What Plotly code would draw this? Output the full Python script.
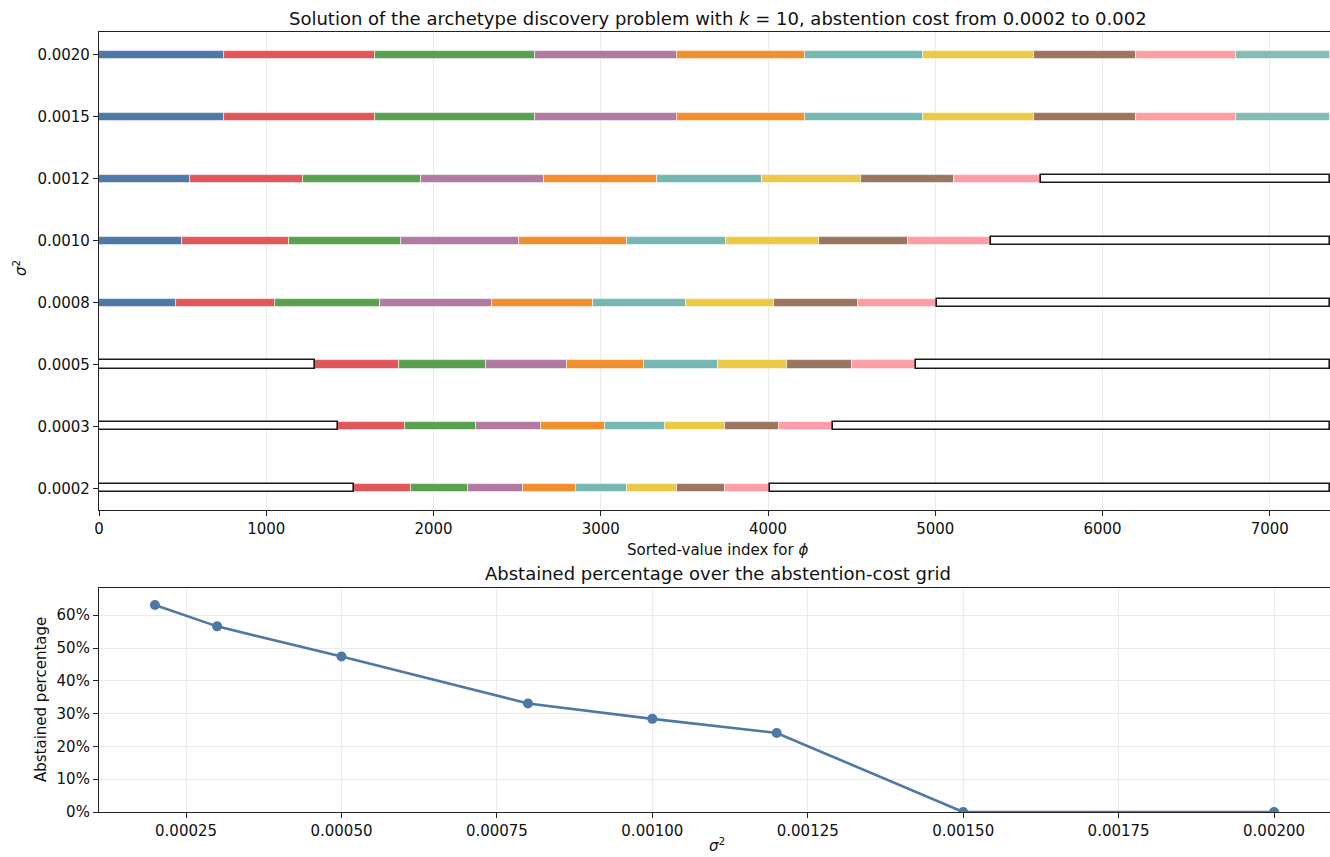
import plotly.graph_objects as go

# ---------------- data ----------------
sigma2_labels = ["0.0002", "0.0003", "0.0005", "0.0008", "0.0010", "0.0012", "0.0015", "0.0020"]
sigma2_values = [0.0002, 0.0003, 0.0005, 0.0008, 0.0010, 0.0012, 0.0015, 0.0020]
n_points = 7360

# segment end indices per row (sorted-value index), and archetype id per segment (-1 = abstained)
ends_0002 = [1527, 1866, 2209, 2538, 2851, 3158, 3457, 3742, 4013, 7360]
ends_0003 = [1431, 1832, 2255, 2645, 3026, 3385, 3740, 4065, 4386, 7360]
ends_0005 = [1292, 1794, 2315, 2799, 3256, 3698, 4111, 4505, 4884, 7360]
ends_0008 = [460, 1053, 1682, 2348, 2951, 3509, 4033, 4535, 5010, 7360]
ends_0010 = [498, 1136, 1804, 2512, 3154, 3750, 4304, 4835, 5335, 7360]
ends_0012 = [542, 1220, 1928, 2661, 3337, 3961, 4553, 5110, 5632, 7360]
ends_0015 = [747, 1651, 2608, 3457, 4222, 4928, 5590, 6202, 6798, 7360]
ends_0020 = [747, 1651, 2608, 3457, 4222, 4928, 5590, 6202, 6798, 7360]

ids_both_abst = [-1, 1, 2, 3, 4, 5, 6, 7, 8, -1]
ids_right_abst = [0, 1, 2, 3, 4, 5, 6, 7, 8, -1]
ids_full = [0, 1, 2, 3, 4, 5, 6, 7, 8, 9]

row_ends = [ends_0002, ends_0003, ends_0005, ends_0008, ends_0010, ends_0012, ends_0015, ends_0020]
row_ids = [ids_both_abst, ids_both_abst, ids_both_abst, ids_right_abst,
           ids_right_abst, ids_right_abst, ids_full, ids_full]

abstained_pct = [0.631, 0.566, 0.474, 0.331, 0.284, 0.241, 0.0, 0.0]

archetype_colors = ["#4E79A7", "#E15759", "#59A14F", "#B07AA1", "#F28E2B",
                    "#76B7B2", "#EDC948", "#9C755F", "#FF9DA7", "#86BCB6"]

# ---------------- figure ----------------
W, H = 1330, 857
FONT = "DejaVu Sans"
fig = go.Figure()

seg_by_id = {}
for lab, ends, ids in zip(sigma2_labels, row_ends, row_ids):
    start = 0
    for e, a in zip(ends, ids):
        seg_by_id.setdefault(a, {"y": [], "base": [], "x": []})
        seg_by_id[a]["y"].append(lab)
        seg_by_id[a]["base"].append(start)
        seg_by_id[a]["x"].append(e - start)
        start = e

for a in range(10):
    if a not in seg_by_id:
        continue
    d = seg_by_id[a]
    fig.add_trace(go.Bar(
        y=d["y"], x=d["x"], base=d["base"], orientation="h", width=0.13,
        marker=dict(color=archetype_colors[a], line=dict(color="rgba(255,255,255,0.7)", width=0.8)),
        xaxis="x", yaxis="y", showlegend=False, hoverinfo="skip"))

d = seg_by_id[-1]
fig.add_trace(go.Bar(
    y=d["y"], x=d["x"], base=d["base"], orientation="h", width=0.13,
    marker=dict(color="white", line=dict(color="#1a1a1a", width=1.6)),
    xaxis="x", yaxis="y", showlegend=False, hoverinfo="skip"))

fig.add_trace(go.Scatter(
    x=sigma2_values, y=abstained_pct, mode="lines+markers",
    line=dict(color="#4E79A7", width=2.6),
    marker=dict(color="#4E79A7", size=10),
    xaxis="x2", yaxis="y2", showlegend=False, cliponaxis=True))

x0 = 99 / W
top_dom = [(H - 510) / H, (H - 32) / H]
bot_dom = [(H - 812) / H, (H - 588) / H]

axis_common = dict(showline=True, linecolor="#222", linewidth=1.2, mirror=True,
                   ticks="outside", ticklen=5, tickcolor="#222", tickwidth=1.1,
                   tickfont=dict(family=FONT, size=15, color="#111"),
                   gridcolor="#ebebeb", gridwidth=1, zeroline=False, automargin=False)

fig.update_layout(
    width=W, height=H, margin=dict(l=0, r=0, t=0, b=0, pad=0, autoexpand=False),
    paper_bgcolor="white", plot_bgcolor="white",
    barmode="overlay", bargap=0,
    font=dict(family=FONT, size=15, color="#111"),
    xaxis=dict(domain=[x0, 1.0], anchor="y", range=[0, n_points],
               tickvals=[0, 1000, 2000, 3000, 4000, 5000, 6000, 7000],
               showgrid=True, **axis_common),
    yaxis=dict(domain=top_dom, anchor="x", type="category",
               categoryorder="array", categoryarray=sigma2_labels,
               range=[-0.35, 7.37], showgrid=False, **axis_common),
    xaxis2=dict(domain=[x0, 1.0], anchor="y2", range=[0.00011, 0.00209],
                tickvals=[0.00025, 0.0005, 0.00075, 0.001, 0.00125, 0.0015, 0.00175, 0.002],
                ticktext=["0.00025", "0.00050", "0.00075", "0.00100", "0.00125", "0.00150", "0.00175", "0.00200"],
                showgrid=True, **axis_common),
    yaxis2=dict(domain=bot_dom, anchor="x2", range=[0, 0.683],
                tickvals=[0, 0.1, 0.2, 0.3, 0.4, 0.5, 0.6], tickformat=".0%",
                showgrid=True, **axis_common),
)

def ann(text, xpx, ypx, size, angle=0):
    fig.add_annotation(text=text, x=xpx / W, y=1 - ypx / H, xref="paper", yref="paper",
                       showarrow=False, xanchor="center", yanchor="middle", textangle=angle,
                       font=dict(family=FONT, size=size, color="#111"))

ann("Solution of the archetype discovery problem with <i>k</i> = 10, abstention cost from 0.0002 to 0.002", 718, 18, 18)
ann("Sorted-value index for <i>ϕ</i>", 717, 550, 15)
ann("<i>σ</i><sup>2</sup>", 20, 268, 15, -90)
ann("Abstained percentage over the abstention-cost grid", 718, 573, 18)
ann("<i>σ</i><sup>2</sup>", 717, 845, 15)
ann("Abstained percentage", 41, 700, 15, -90)

fig.write_html("out.html")
